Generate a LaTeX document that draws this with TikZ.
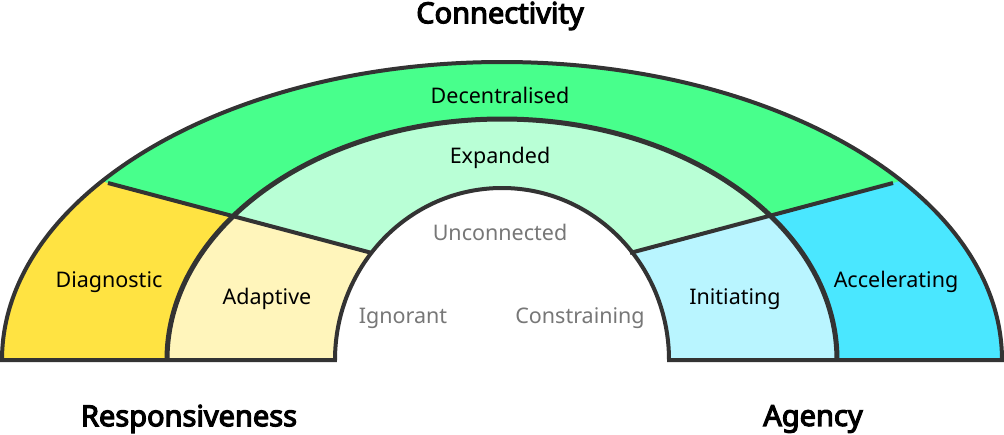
\documentclass[tikz,border=0pt]{standalone}
\usepackage{fontspec}
\setmainfont{Noto Sans}[AutoFakeBold=4]
\usetikzlibrary{calc}

\definecolor{edge}{HTML}{333333}
\definecolor{decent}{HTML}{48FF8C}
\definecolor{expand}{HTML}{B9FFD6}
\definecolor{diag}{HTML}{FFE342}
\definecolor{adapt}{HTML}{FFF5BB}
\definecolor{accel}{HTML}{4AE7FF}
\definecolor{initi}{HTML}{B9F5FF}
\definecolor{faint}{HTML}{777777}

\begin{document}
\begin{tikzpicture}[x=1pt, y=-1pt,
   ring/.style={draw=edge, line width=4pt, line join=miter},
   band/.style={font=\fontsize{21.5}{24}\selectfont, text=black},
   void/.style={font=\fontsize{21.5}{24}\selectfont, text=faint},
   axis/.style={font=\fontsize{29}{32}\selectfont\bfseries}]
   \useasboundingbox (0,0) rectangle (1004,434);
   \coordinate (c) at (502,360);
   % dividers
   \coordinate (la) at (108,183); \coordinate (lb) at (372,253);
   \coordinate (ra) at (893,183); \coordinate (rb) at (630,253);
   \coordinate (lfar) at ($(la)!-0.5!(lb)$); \coordinate (lnear) at ($(la)!1.2!(lb)$);
   \coordinate (rfar) at ($(ra)!-0.5!(rb)$); \coordinate (rnear) at ($(ra)!1.2!(rb)$);
   \begin{scope}
      \clip (0,0) rectangle (1004,360);
      \fill[decent] (c) ellipse[x radius=500, y radius=298];
      \begin{scope}
         \clip (lfar) -- (lnear) |- (-30,360) -- cycle;
         \fill[diag] (c) ellipse[x radius=500, y radius=298];
      \end{scope}
      \begin{scope}
         \clip (rfar) -- (rnear) |- (1034,360) -- cycle;
         \fill[accel] (c) ellipse[x radius=500, y radius=298];
      \end{scope}
      \fill[expand] (c) ellipse[x radius=335, y radius=241];
      \begin{scope}
         \clip (lfar) -- (lnear) |- (-30,360) -- cycle;
         \fill[adapt] (c) ellipse[x radius=335, y radius=241];
      \end{scope}
      \begin{scope}
         \clip (rfar) -- (rnear) |- (1034,360) -- cycle;
         \fill[initi] (c) ellipse[x radius=335, y radius=241];
      \end{scope}
      \fill[white] (c) ellipse[x radius=167, y radius=172];
   \end{scope}
   % outlines
   \draw[ring, line width=5pt] (167,360) arc[start angle=180, end angle=360, x radius=335, y radius=241];
   \draw[ring] (la) -- (lb);
   \draw[ring] (ra) -- (rb);
   \draw[ring] (2,360) arc[start angle=180, end angle=360, x radius=500, y radius=298]
      -- (669,360) arc[start angle=360, end angle=180, x radius=167, y radius=172] -- cycle;
   % labels
   \node[axis] (conn) at (500,16) {Connectivity};
   \node[axis] (resp) at (189,419) {Responsiveness};
   \node[axis] (agen) at (813,419) {Agency};
   \node[band] (dece) at (500,95) {Decentralised};
   \node[band] (expa) at (500,158) {Expanded};
   \node[void] (unco) at (500,232) {Unconnected};
   \node[band] (diag) at (109,282) {Diagnostic};
   \node[band] (adap) at (267,299) {Adaptive};
   \node[void] (igno) at (403,318) {Ignorant};
   \node[void] (cons) at (580,318) {Constraining};
   \node[band] (init) at (735,299) {Initiating};
   \node[band] (acce) at (896,282) {Accelerating};
\end{tikzpicture}
\end{document}
